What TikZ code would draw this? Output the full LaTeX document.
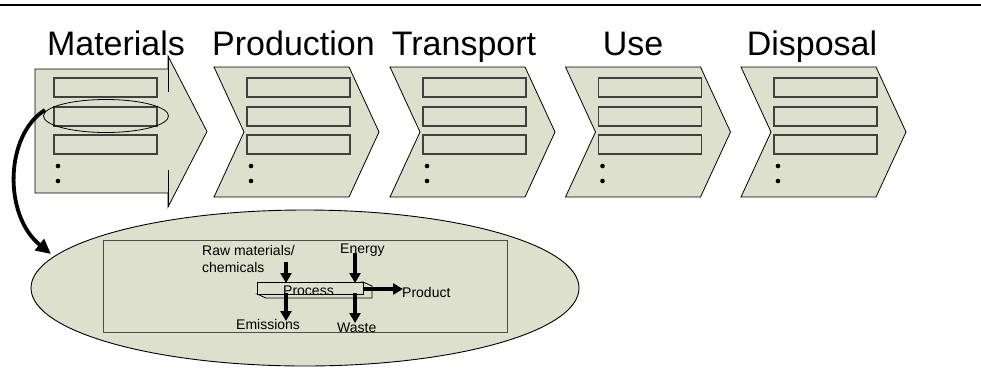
\documentclass[tikz,border=0pt]{standalone}
\usepackage{fontspec}
\setmainfont{Liberation Sans}
\usetikzlibrary{arrows.meta,shapes.geometric}
\definecolor{fillc}{RGB}{221,224,204}
\begin{document}
\begin{tikzpicture}[x=1pt,y=-1pt,
  shapeline/.style={draw=black, line width=0.8pt, fill=fillc},
  slot/.style={draw=black!75, line width=1.3pt, fill=fillc},
  title/.style={font=\fontsize{34}{38}\selectfont, anchor=base, inner sep=0pt},
  lbl/.style={font=\fontsize{14}{17}\selectfont, anchor=base west, inner sep=0pt},
  flow/.style={line width=3.4pt, -{Triangle[length=10pt,width=11pt]}},
  dotc/.style={fill=black, draw=none},
]
\useasboundingbox (0,0) rectangle (981,370);
\draw[line width=1.5pt] (0,5) -- (981,5);

% Materials block arrow
\draw[shapeline] (35,69) -- (168,69) -- (168,56) -- (207,131.5) -- (168,207) -- (168,193) -- (35,193) -- cycle;
\draw[line width=0.8pt] (168,56) -- (168,92) (168,170) -- (168,207);
\foreach \yy in {78,107,135} {
  \draw[slot] (54,\yy) rectangle (157,\yy+19);
}
\fill[dotc] (58,166) circle (2.3pt);
\fill[dotc] (58,181) circle (2.3pt);

% Chevrons
\foreach \x in {214,390,565.5,741} {
  \draw[shapeline] (\x,67) -- (\x+135,67) -- (\x+165,132) -- (\x+135,197) -- (\x,197) -- (\x+30,132) -- cycle;
  \foreach \yy in {78,107,135} {
    \draw[slot] (\x+33,\yy) rectangle (\x+136,\yy+19);
  }
  \fill[dotc] (\x+37,166) circle (2.3pt);
  \fill[dotc] (\x+37,181) circle (2.3pt);
}

% Titles
\node[title] (tmat) at (116,55) {Materials};
\node[title] (tpro) at (293.5,55) {Production};
\node[title] (ttra) at (464,55) {Transport};
\node[title] (tuse) at (633,55) {Use};
\node[title] (tdis) at (812,55) {Disposal};

% small ellipse
\node[ellipse, draw, line width=0.8pt, minimum width=125pt, minimum height=33pt, inner sep=0pt] (sel) at (106,116) {};

% big ellipse
\node[ellipse, draw, fill=fillc, line width=0.9pt, minimum width=548pt, minimum height=156pt, inner sep=0pt] (bigel) at (305,288) {};

% curved arrow
\coordinate (cs) at (45,110);
\coordinate (ce) at (51,254);
\draw[line width=3.8pt, -{Triangle[length=15pt,width=14pt]}] (cs) .. controls (5,135) and (3,215) .. (ce);

% inner rectangle
\node[draw=black!70, line width=1.3pt, minimum width=404pt, minimum height=92pt, anchor=north west, inner sep=0pt] (inner) at (103,240) {};

% process box
\draw[shapeline] (363,282) -- (372,286) -- (372,298) -- (266,298) -- (257,294) -- cycle;
\node[draw, line width=0.8pt, fill=fillc, minimum width=106pt, minimum height=12pt, anchor=north west, inner sep=0pt] (proc) at (257,282) {};
\node[lbl] (ptext) at (283,295) {Process};

% labels
\node[lbl] (raw1) at (202,255) {Raw materials/};
\node[lbl] (raw2) at (202,272) {chemicals};
\node[lbl] (energy) at (340,253) {Energy};
\node[lbl] (product) at (402,297) {Product};
\node[lbl] (emis) at (236,329) {Emissions};
\node[lbl] (waste) at (337,332) {Waste};

% flow arrows
\coordinate (rawA) at (286,262);
\coordinate (rawB) at (286,283);
\coordinate (enA) at (355,253);
\coordinate (enB) at (355,283);
\coordinate (emA) at (286,293);
\coordinate (emB) at (286,321);
\coordinate (waA) at (355,293);
\coordinate (waB) at (355,323);
\coordinate (prA) at (364,289);
\coordinate (prB) at (403,289);
\draw[flow] (rawA) -- (rawB);
\draw[flow] (enA) -- (enB);
\draw[flow] (emA) -- (emB);
\draw[flow] (waA) -- (waB);
\draw[flow] (prA) -- (prB);
\end{tikzpicture}
\end{document}
